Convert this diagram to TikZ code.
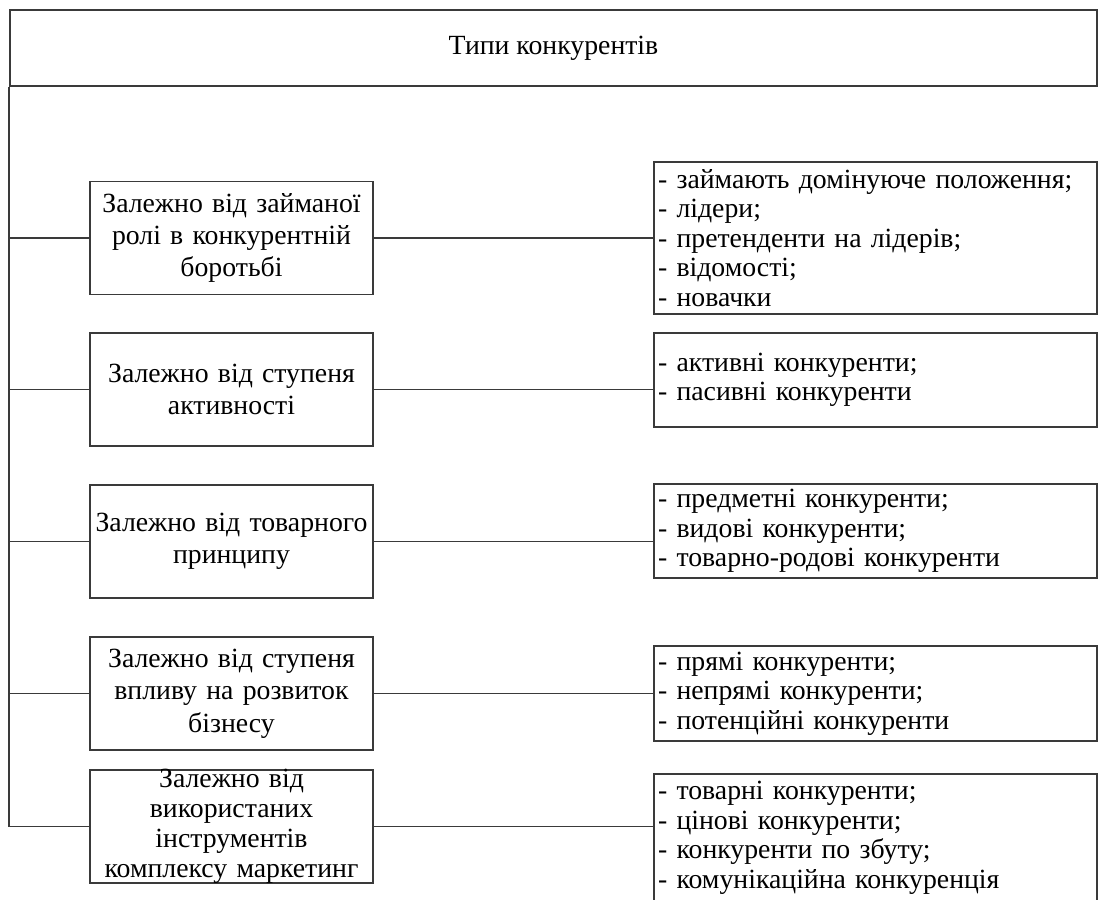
\documentclass[tikz,border=0pt]{standalone}
\usepackage{fontspec}
\setmainfont{Liberation Serif}
\usetikzlibrary{positioning,calc}
\definecolor{tkLine}{HTML}{3a3a3a}
\tikzset{
  head/.style={draw=tkLine, line width=1.1pt, minimum width=21.74cm, minimum height=1.52cm,
              inner sep=0pt, font=\fontsize{15.8}{17}\selectfont},
  crit/.style={draw=tkLine, line width=1.1pt, minimum width=5.66cm, minimum height=2.26cm,
              inner sep=0pt},
  crittext/.style={align=center, text width=5.6cm, inner sep=0pt,
              font=\fontsize{15.8}{18.4}\selectfont},
  kinds/.style={draw=tkLine, line width=1.1pt, minimum width=8.86cm, text width=8.7cm,
              inner xsep=0.08cm, inner ysep=0pt, align=left,
              font=\fontsize{15.8}{16.8}\selectfont},
  link/.style={draw=tkLine, line width=1.1pt},
}

\begin{document}
\begin{tikzpicture}[x=0.02cm,y=-0.02cm]
        \useasboundingbox (0,0) rectangle (1098,899);
        \clip (0,0) rectangle (1098,899);
        \node[head] (head) at (553.5,48){Типи конкурентів};
        \node[crit] (b1) at (231.5,238){};
        \node[crittext] at (b1){Залежно від займаної\\ролі в конкурентній\\боротьбі};
        \node[crit] (b2) at (231.5,389.5){};
        \node[crittext] at (b2){Залежно від ступеня\\активності};
        \node[crit] (b3) at (231.5,541.5){};
        \node[crittext] at (b3){Залежно від товарного\\принципу};
        \node[crit] (b4) at (231.5,693.5){};
        \node[crittext] at (b4){Залежно від ступеня\\впливу на розвиток\\бізнесу};
        \node[crit] (b5) at (231.5,826.5){};
        \node[crittext,font=\fontsize{15.8}{17}\selectfont] at (b5)
          {Залежно від\\використаних\\інструментів\\комплексу маркетинг};
        \node[kinds,minimum height=3.04cm] (r1) at (875.5,238)
          {- займають домінуюче положення;\\- лідери;\\- претенденти на лідерів;\\- відомості;\\- новачки};
        \node[kinds,minimum height=1.88cm] (r2) at (875.5,380)
          {- активні конкуренти;\\- пасивні конкуренти};
        \node[kinds,minimum height=1.88cm] (r3) at (875.5,531)
          {- предметні конкуренти;\\- видові конкуренти;\\- товарно-родові конкуренти};
        \node[kinds,minimum height=1.9cm] (r4) at (875.5,693.5)
          {- прямі конкуренти;\\- непрямі конкуренти;\\- потенційні конкуренти};
        \node[kinds,minimum height=2.56cm] (r5) at (875.5,838)
          {- товарні конкуренти;\\- цінові конкуренти;\\- конкуренти по збуту;\\- комунікаційна конкуренція};
        \draw[link](head.south west) |- (b5.west);
        \foreach \n in {b1,b2,b3,b4}{\draw[link](head.south west |- \n.west)--(\n.west);}
        \foreach \n/\m in {b1/r1,b2/r2,b3/r3,b4/r4,b5/r5}{\draw[link](\n.east)--(\n.east -| \m.west);}
      \end{tikzpicture}
\end{document}
